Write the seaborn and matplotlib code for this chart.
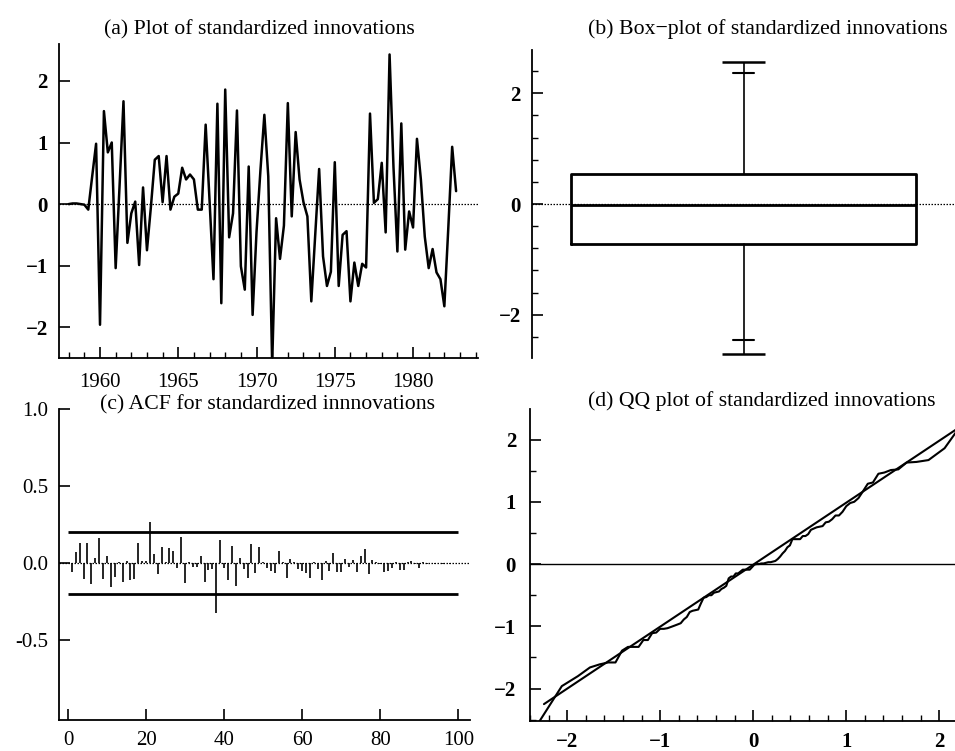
import numpy as np
import pandas as pd
import matplotlib
matplotlib.use("Agg")
import matplotlib.pyplot as plt
import seaborn as sns
from statistics import NormalDist
from matplotlib.ticker import MultipleLocator

sns.set_theme(style="ticks")
plt.rcParams['font.family'] = ['Liberation Serif', 'DejaVu Serif']
plt.rcParams.update({
    'axes.edgecolor': 'black', 'axes.linewidth': 1.3,
    'xtick.color': 'black', 'ytick.color': 'black',
    'xtick.direction': 'in', 'ytick.direction': 'in',
    'xtick.major.size': 8, 'ytick.major.size': 8,
    'xtick.minor.size': 4.5, 'ytick.minor.size': 4.5,
    'xtick.major.width': 1.2, 'ytick.major.width': 1.2,
    'xtick.minor.width': 1.0, 'ytick.minor.width': 1.0,
    'text.color': 'black',
})

# ---------------- data ----------------
start_year = 1958.0
innovations = [
    0.00, 0.01, 0.01, 0.00, -0.01, -0.09, 0.45, 0.98, -1.96, 1.51,
    0.84, 1.00, -1.04, 0.30, 1.67, -0.63, -0.15, 0.04, -0.99, 0.27,
    -0.75, -0.05, 0.72, 0.78, 0.03, 0.78, -0.09, 0.12, 0.17, 0.59,
    0.40, 0.48, 0.40, -0.09, -0.09, 1.29, 0.05, -1.22, 1.63, -1.61,
    1.86, -0.54, -0.15, 1.52, -1.01, -1.39, 0.61, -1.80, -0.45, 0.55,
    1.45, 0.45, -2.60, -0.23, -0.89, -0.35, 1.64, -0.20, 1.17, 0.40,
    0.03, -0.20, -1.58, -0.50, 0.57, -0.85, -1.33, -1.10, 0.68, -1.33,
    -0.50, -0.44, -1.58, -0.95, -1.33, -0.97, -1.03, 1.47, 0.02, 0.08,
    0.67, -0.46, 2.43, 0.60, -0.77, 1.31, -0.74, -0.12, -0.38, 1.06,
    0.40, -0.53, -1.04, -0.73, -1.11, -1.22, -1.66, -0.40, 0.93, 0.21,
]
acf_values = [
    -0.058, 0.072, 0.130, -0.104, 0.130, -0.137, 0.036, 0.162, -0.102, 0.050,
    -0.152, -0.088, 0.006, -0.121, 0.015, -0.108, -0.104, 0.132, 0.015, 0.015,
    0.267, 0.058, -0.072, 0.108, 0.006, 0.097, 0.082, -0.033, 0.170, -0.126,
    0.006, -0.025, -0.025, 0.047, -0.124, -0.044, -0.036, -0.325, 0.152, -0.028,
    -0.108, 0.114, -0.145, 0.036, -0.039, -0.097, 0.126, -0.065, 0.108, 0.011,
    -0.033, -0.050, -0.065, 0.080, 0.011, -0.097, 0.028, 0.006, -0.036, -0.050,
    -0.065, -0.097, 0.010, -0.036, -0.108, 0.015, -0.050, 0.065, -0.055, -0.058,
    0.028, -0.022, 0.022, -0.055, 0.050, 0.093, -0.069, 0.022, 0.006, -0.006,
    -0.058, -0.050, -0.033, 0.011, -0.044, -0.044, 0.005, 0.017, -0.005, -0.033,
    0.005, -0.005, 0.004, -0.004, 0.004, -0.002, 0.002, -0.002, 0.001,
]
acf_band = 0.2
acf_band_lags = [0, 100]
box_q1, box_median, box_q3 = -0.73, -0.02, 0.55
whisker_low, whisker_high = -2.46, 2.36
extreme_low, extreme_high = -2.71, 2.57
qq_slope, qq_intercept = 0.995, -0.01
qq_line_x = [-2.25, 2.33]

titles = ["(a) Plot of standardized innovations",
          "(b) Box\u2212plot of standardized innovations",
          "(c) ACF for standardized innnovations",
          "(d) QQ plot of standardized innovations"]

# ---------------- derived ----------------
n = len(innovations)
df = pd.DataFrame({"time": start_year + np.arange(n) / 4.0, "value": innovations})
lags = np.arange(1, len(acf_values) + 1)
nd = NormalDist()
theo = [nd.inv_cdf(i / (n + 1)) for i in range(1, n + 1)]
qq = pd.DataFrame({"theoretical": theo, "sample": np.sort(innovations)})

W, H = 955, 751
fig = plt.figure(figsize=(W / 100, H / 100), dpi=100)

def add_ax(l, t, r, b):
    return fig.add_axes([l / W, 1 - b / H, (r - l) / W, (b - t) / H])

def fmt(v, dec=0):
    s = f"{abs(v):.{dec}f}"
    return ("\u2212" + s) if v < 0 else s

TICK = 15
DOT = (0, (1.2, 1.2))

# (a)
axA = add_ax(59, 44, 478, 358)
sns.lineplot(data=df, x="time", y="value", ax=axA, color="black", linewidth=1.8)
axA.axhline(0, color="black", linewidth=0.9, linestyle=DOT, zorder=0)
axA.set_xlim(1957.38, 1984.15)
axA.set_ylim(-2.5, 2.6)
axA.set_xticks([1960, 1965, 1970, 1975, 1980], labels=["1960", "1965", "1970", "1975", "1980"], fontsize=TICK)
axA.xaxis.set_minor_locator(MultipleLocator(1))
axA.set_yticks([-2, -1, 0, 1, 2], labels=[fmt(v) for v in [-2, -1, 0, 1, 2]], fontsize=TICK, fontweight="bold")

# (b)
axB = add_ax(532, 50, 955, 358)
axB.axhline(0, color="black", linewidth=0.9, linestyle=DOT, zorder=0)
stats = [{"med": box_median, "q1": box_q1, "q3": box_q3,
          "whislo": whisker_low, "whishi": whisker_high, "fliers": []}]
axB.bxp(stats, positions=[0], widths=0.816, capwidths=0.05, showfliers=False,
        boxprops=dict(color="black", linewidth=2.0),
        medianprops=dict(color="black", linewidth=2.0),
        whiskerprops=dict(color="black", linewidth=1.2),
        capprops=dict(color="black", linewidth=1.5))
axB.vlines(0, whisker_high, extreme_high, color="black", linewidth=1.2)
axB.vlines(0, extreme_low, whisker_low, color="black", linewidth=1.2)
axB.hlines([extreme_low, extreme_high], -0.05, 0.05, color="black", linewidth=1.8)
axB.set_xlim(-0.5, 0.5)
axB.set_ylim(-2.78, 2.78)
axB.set_xticks([])
axB.set_yticks([-2, 0, 2], labels=[fmt(v) for v in [-2, 0, 2]], fontsize=TICK, fontweight="bold")
axB.yaxis.set_minor_locator(MultipleLocator(0.4))

# (c)
axC = add_ax(59, 409, 470, 720)
axC.axhline(0, color="black", linewidth=0.9, linestyle=DOT, zorder=0)
axC.vlines(lags, 0, acf_values, color="black", linewidth=1.2)
axC.hlines([acf_band, -acf_band], acf_band_lags[0], acf_band_lags[1], color="black", linewidth=2.0)
axC.set_xlim(-2.3, 103)
axC.set_ylim(-1.016, 1.0)
axC.set_xticks([0, 20, 40, 60, 80, 100], labels=["0", "20", "40", "60", "80", "100"], fontsize=TICK)
axC.set_yticks([-0.5, 0.0, 0.5, 1.0], labels=["-0.5", "0.0", "0.5", "1.0"], fontsize=TICK)

# (d)
axD = add_ax(530, 409, 955, 721)
axD.axhline(0, color="black", linewidth=1.0, zorder=0)
sns.lineplot(data=qq, x="theoretical", y="sample", ax=axD, color="black", linewidth=1.5, sort=False)
lx = np.array(qq_line_x)
axD.plot(lx, qq_intercept + qq_slope * lx, color="black", linewidth=1.5)
axD.set_xlim(-2.40, 2.17)
axD.set_ylim(-2.52, 2.49)
axD.set_xticks([-2, -1, 0, 1, 2], labels=[fmt(v) for v in [-2, -1, 0, 1, 2]], fontsize=TICK, fontweight="bold")
axD.xaxis.set_minor_locator(MultipleLocator(0.2))
axD.set_yticks([-2, -1, 0, 1, 2], labels=[fmt(v) for v in [-2, -1, 0, 1, 2]], fontsize=TICK, fontweight="bold")
axD.yaxis.set_minor_locator(MultipleLocator(0.5))

for ax in (axA, axB, axC, axD):
    sns.despine(ax=ax)
    ax.set_xlabel("")
    ax.set_ylabel("")
    ax.tick_params(axis="y", which="both", pad=8)
    ax.tick_params(axis="x", which="both", pad=8)
    ax.patch.set_alpha(0)
axA.tick_params(axis="x", which="both", pad=11)
axD.tick_params(axis="y", which="both", pad=10)
axB.spines["bottom"].set_visible(False)

TS = 15.7
fig.text(259 / W, 1 - 34 / H, titles[0], ha="center", va="baseline", fontsize=TS)
fig.text(768 / W, 1 - 34 / H, titles[1], ha="center", va="baseline", fontsize=TS)
fig.text(268 / W, 1 - 409 / H, titles[2], ha="center", va="baseline", fontsize=TS)
fig.text(762 / W, 1 - 406 / H, titles[3], ha="center", va="baseline", fontsize=TS)

fig.savefig("out.png", dpi=100, facecolor="white")
